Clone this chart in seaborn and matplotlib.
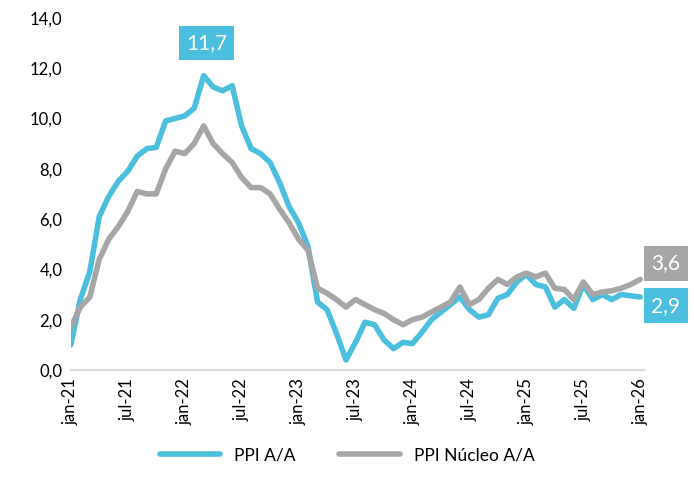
import numpy as np
import pandas as pd
import matplotlib.pyplot as plt
import seaborn as sns

# monthly values, jan-21 .. jan-26
ppi = [1.0, 2.8, 3.9, 6.1, 6.9, 7.5, 7.9, 8.5, 8.8, 8.85,
       9.9, 10.0, 10.1, 10.4, 11.7, 11.25, 11.1, 11.3, 9.7, 8.8,
       8.6, 8.25, 7.45, 6.5, 5.85, 4.9, 2.7, 2.4, 1.45, 0.4,
       1.1, 1.9, 1.8, 1.2, 0.85, 1.1, 1.05, 1.5, 2.0, 2.3,
       2.6, 2.9, 2.4, 2.1, 2.2, 2.85, 3.0, 3.5, 3.8, 3.4,
       3.3, 2.5, 2.8, 2.45, 3.4, 2.8, 3.0, 2.8, 3.0, 2.95,
       2.9]
ppi_core = [1.7, 2.5, 2.9, 4.4, 5.2, 5.7, 6.3, 7.1, 7.0, 7.0,
            8.0, 8.7, 8.6, 9.0, 9.7, 9.0, 8.6, 8.25, 7.65, 7.25,
            7.25, 7.0, 6.4, 5.85, 5.2, 4.75, 3.25, 3.05, 2.8, 2.5,
            2.8, 2.6, 2.4, 2.25, 2.0, 1.8, 2.0, 2.1, 2.3, 2.5,
            2.7, 3.3, 2.6, 2.8, 3.25, 3.6, 3.4, 3.7, 3.85, 3.7,
            3.85, 3.25, 3.2, 2.8, 3.5, 3.0, 3.1, 3.15, 3.25, 3.4,
            3.6]
tick_labels = ['jan-21', 'jul-21', 'jan-22', 'jul-22', 'jan-23', 'jul-23',
               'jan-24', 'jul-24', 'jan-25', 'jul-25', 'jan-26']

blue = '#4BBFDD'
gray = '#A6A6A6'

df = pd.DataFrame({'m': np.arange(len(ppi)), 'PPI A/A': ppi, 'PPI Núcleo A/A': ppi_core})

sns.set_style('white')
plt.rcParams['font.family'] = ['Lato', 'DejaVu Sans']
plt.rcParams['text.color'] = 'black'
plt.rcParams['xtick.color'] = 'black'
plt.rcParams['ytick.color'] = 'black'

fig = plt.figure(figsize=(6.94, 4.94), dpi=100)
ax = fig.add_axes([0.102, 0.251, 0.826, 0.713])

sns.lineplot(data=df, x='m', y='PPI A/A', color=blue, lw=4, ax=ax,
             label='PPI A/A', solid_joinstyle='round', solid_capstyle='round')
sns.lineplot(data=df, x='m', y='PPI Núcleo A/A', color=gray, lw=4, ax=ax,
             label='PPI Núcleo A/A', solid_joinstyle='round', solid_capstyle='round')

ax.set_xlim(0, 60.4)
ax.set_ylim(0, 14)
ax.set_yticks(np.arange(0, 14.1, 2))
ax.set_yticklabels([f'{v:.1f}'.replace('.', ',') for v in np.arange(0, 14.1, 2)], fontsize=12)
ax.set_xticks(np.arange(0, 61, 6))
ax.set_xticklabels(tick_labels, rotation=90, fontsize=12)
ax.tick_params(length=0, pad=6, colors='black')
ax.set_xlabel('')
ax.set_ylabel('')
for s in ['top', 'right', 'left']:
    ax.spines[s].set_visible(False)
ax.spines['bottom'].set_color('#D9D9D9')
ax.spines['bottom'].set_linewidth(1.5)

# value boxes
peak = int(np.argmax(ppi))
ax.text(peak + 0.3, 13.0, f'{ppi[peak]:.1f}'.replace('.', ','), color='white',
        fontsize=15, ha='center', va='center',
        bbox=dict(boxstyle='square,pad=0.35', fc=blue, ec='none'))
ax.text(62.7, 4.24, f'{ppi_core[-1]:.1f}'.replace('.', ','), color='white',
        fontsize=15, ha='center', va='center', clip_on=False,
        bbox=dict(boxstyle='square,pad=0.35', fc=gray, ec='none'))
ax.text(62.7, 2.56, f'{ppi[-1]:.1f}'.replace('.', ','), color='white',
        fontsize=15, ha='center', va='center', clip_on=False,
        bbox=dict(boxstyle='square,pad=0.35', fc=blue, ec='none'))

ax.get_legend().remove()
handles, labels = ax.get_legend_handles_labels()
fig.legend(handles, labels, loc='center', bbox_to_anchor=(0.5, 0.078), ncol=2,
           frameon=False, fontsize=12.5, handlelength=3.5, columnspacing=2.5)

fig.savefig('out.png', dpi=100)
